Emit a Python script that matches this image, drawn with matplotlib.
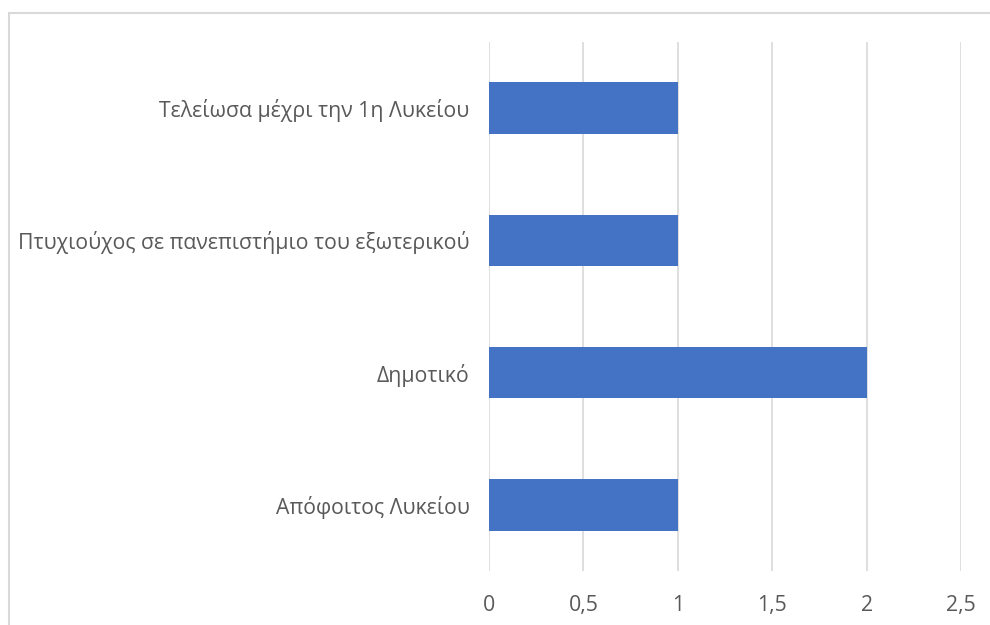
import matplotlib.pyplot as plt
from matplotlib.patches import Rectangle
from matplotlib.ticker import FuncFormatter

# Data (bottom to top)
categories = ["Απόφοιτος Λυκείου", "Δημοτικό",
              "Πτυχιούχος σε πανεπιστήμιο του εξωτερικού",
              "Τελείωσα μέχρι την 1η Λυκείου"]
values = [1, 2, 1, 1]
x_ticks = [0, 0.5, 1, 1.5, 2, 2.5]

plt.rcParams['font.family'] = ['Open Sans', 'DejaVu Sans']

W, H = 990, 625
fig = plt.figure(figsize=(W / 100, H / 100), dpi=100)

# light grey chart border (only left and top edges are visible in the crop)
fig.patches.append(Rectangle((9 / W, -1), 2, 2 - 13 / H, transform=fig.transFigure,
                             fill=False, edgecolor='#D9D9D9', linewidth=1.5))

ax = fig.add_axes([489 / W, 1 - 571 / H, (961 - 489) / W, (571 - 42) / H])

ax.barh(range(len(categories)), values, height=0.39, color='#4472C4', zorder=3)

ax.set_xlim(0, 2.5)
ax.set_ylim(-0.5, len(categories) - 0.5)
ax.set_xticks(x_ticks)
ax.xaxis.set_major_formatter(FuncFormatter(lambda v, p: f"{v:g}".replace('.', ',')))
ax.set_yticks(range(len(categories)))
ax.set_yticklabels(categories)

ax.grid(axis='x', color='#D9D9D9', linewidth=1.2, zorder=0)
for s in ax.spines.values():
    s.set_visible(False)
ax.tick_params(axis='both', length=0, colors='#595959', labelsize=15.3)
ax.tick_params(axis='y', pad=14)
ax.tick_params(axis='x', pad=17)

fig.savefig('out.png', dpi=100)
